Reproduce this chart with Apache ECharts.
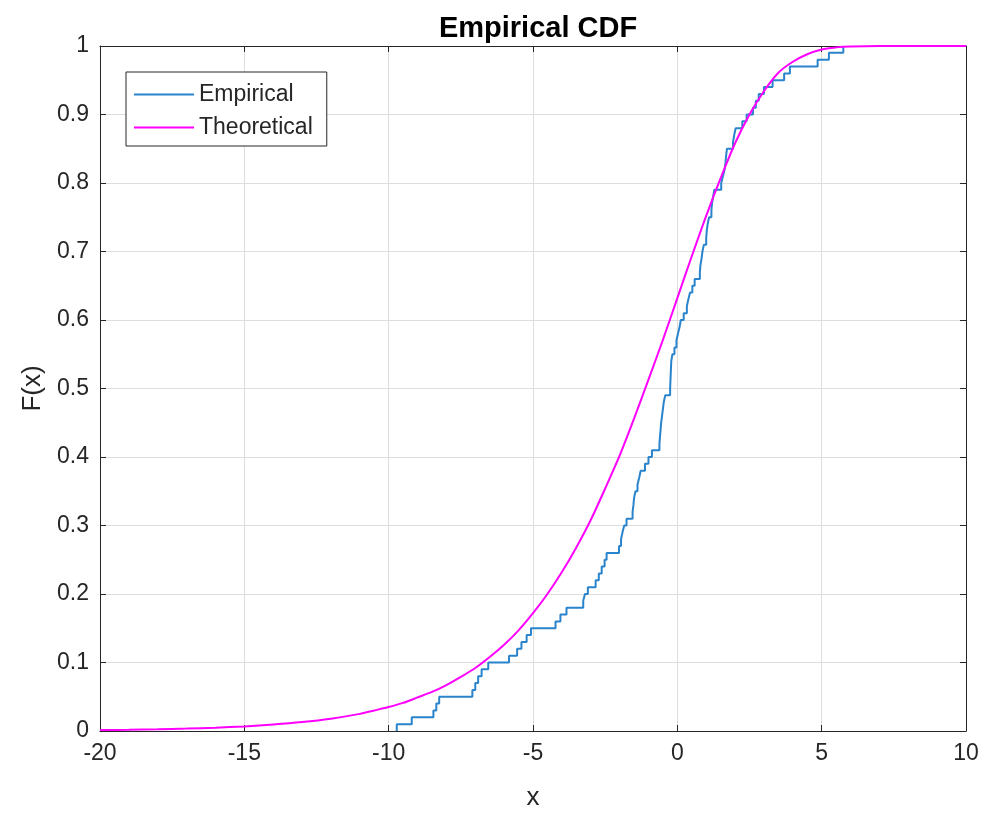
<!DOCTYPE html>
<html>
<head>
<meta charset="utf-8">
<title>Empirical CDF</title>
<script src="https://cdn.jsdelivr.net/npm/echarts@6/dist/echarts.min.js"></script>
<style>
  html, body { margin: 0; padding: 0; background: #fff; }
  #chart { width: 985px; height: 816px; }
</style>
</head>
<body>
<div id="chart"></div>
<script>
// --- データ ---

// 経験分布: ステップの x 位置と、そこでの F(x)
const empX = [-9.72, -9.72, -9.20, -8.45, -8.35, -8.25, -7.10, -7.00, -6.90, -6.78, -6.55,
  -5.83, -5.55, -5.40, -5.22, -5.07, -4.22, -4.05, -3.84, -3.26, -3.20,
  -3.10, -2.83, -2.72, -2.62, -2.52, -2.45, -2.02, -1.95, -1.90, -1.84,
  -1.76, -1.55, -1.52, -1.50, -1.45, -1.38, -1.32, -1.27, -1.12, -1.00,
  -0.88, -0.62, -0.60, -0.58, -0.56, -0.53, -0.50, -0.47, -0.42, -0.25,
  -0.24, -0.23, -0.22, -0.21, -0.17, -0.10, -0.03, 0.02, 0.08, 0.12,
  0.22, 0.33, 0.38, 0.44, 0.52, 0.60, 0.78, 0.80, 0.84, 0.87,
  0.92, 1.00, 1.02, 1.05, 1.10, 1.18, 1.20, 1.24, 1.28, 1.52,
  1.58, 1.64, 1.67, 1.69, 1.72, 1.93, 1.97, 2.02, 2.25, 2.40,
  2.62, 2.72, 2.82, 3.00, 3.30, 3.70, 3.90, 4.86, 5.25, 5.75];
const empY = [0, 0.01, 0.02, 0.03, 0.04, 0.05, 0.06, 0.07, 0.08, 0.09, 0.10,
  0.11, 0.12, 0.13, 0.14, 0.15, 0.16, 0.17, 0.18, 0.19, 0.20,
  0.21, 0.22, 0.23, 0.24, 0.25, 0.26, 0.27, 0.28, 0.29, 0.30,
  0.31, 0.32, 0.33, 0.34, 0.35, 0.36, 0.37, 0.38, 0.39, 0.40,
  0.41, 0.42, 0.43, 0.44, 0.45, 0.46, 0.47, 0.48, 0.49, 0.50,
  0.51, 0.52, 0.53, 0.54, 0.55, 0.56, 0.57, 0.58, 0.59, 0.60,
  0.61, 0.62, 0.63, 0.64, 0.65, 0.66, 0.67, 0.68, 0.69, 0.70,
  0.71, 0.72, 0.73, 0.74, 0.75, 0.76, 0.77, 0.78, 0.79, 0.80,
  0.81, 0.82, 0.83, 0.84, 0.85, 0.86, 0.87, 0.88, 0.89, 0.90,
  0.91, 0.92, 0.93, 0.94, 0.95, 0.96, 0.97, 0.98, 0.99, 1.00];

// 理論分布の曲線（読み取り点）
const theoX = [-20, -19, -18, -17, -16, -15, -14, -13, -12, -11, -10.5, -10, -9.5, -9, -8.5, -8,
  -7.5, -7, -6.5, -6, -5.5, -5, -4.5, -4, -3.5, -3, -2.5, -2, -1.5, -1, -0.5, 0,
  0.5, 1, 1.5, 2, 2.5, 3, 3.5, 4, 4.5, 5, 5.5, 6, 7, 8, 9, 10];
const theoY = [0.0013, 0.0018, 0.0025, 0.0035, 0.0048, 0.0067, 0.0094, 0.013, 0.018, 0.025, 0.030, 0.035, 0.041, 0.049, 0.057, 0.067,
  0.079, 0.092, 0.108, 0.126, 0.147, 0.172, 0.200, 0.232, 0.268, 0.308, 0.354, 0.402, 0.456, 0.513, 0.571, 0.632,
  0.693, 0.752, 0.807, 0.858, 0.900, 0.934, 0.961, 0.977, 0.988, 0.995, 0.998, 0.9994, 1.0, 1.0, 1.0, 1.0];

const textColor = '#262626';
const gridColor = '#dedede';
const fontFamily = '"Liberation Sans", Arial, Helvetica, sans-serif';

function zip(xs, ys) {
    return xs.map((x, i) => [x, ys[i]]);
}

const chart = echarts.init(document.getElementById('chart'));

const boxAxis = {
    axisLine: { show: true, onZero: false, lineStyle: { color: textColor, width: 1 } },
    axisTick: { show: true, inside: true, length: 6, lineStyle: { color: textColor } },
    axisLabel: { show: false },
    splitLine: { show: false }
};

const option = {
    animation: false,
    backgroundColor: '#fff',
    title: {
        text: 'Empirical CDF',
        left: 533,
        top: 9,
        textAlign: 'center',
        textStyle: { fontFamily, fontSize: 29, fontWeight: 'bold', color: '#000' }
    },
    legend: {
        orient: 'vertical',
        left: 126,
        top: 72,
        padding: [11, 14, 7, 8],
        itemGap: 10,
        itemWidth: 60,
        itemHeight: 2,
        icon: 'rect',
        borderColor: textColor,
        borderWidth: 1,
        backgroundColor: '#fff',
        textStyle: { fontFamily, fontSize: 23, color: textColor },
        data: ['Empirical', 'Theoretical']
    },
    grid: { left: 100, right: 19, top: 46, bottom: 83, containLabel: false },
    xAxis: [{
        type: 'value',
        min: -20, max: 10, interval: 5,
        name: 'x',
        nameLocation: 'middle',
        nameGap: 54,
        nameTextStyle: { fontFamily, fontSize: 26, color: textColor },
        axisLine: { show: true, onZero: false, lineStyle: { color: textColor, width: 1 } },
        axisTick: { show: true, inside: true, length: 6, lineStyle: { color: textColor } },
        axisLabel: { fontFamily, fontSize: 23, color: textColor, margin: 11 },
        splitLine: { show: true, lineStyle: { color: gridColor, width: 1 } }
    }, Object.assign({
        type: 'value', position: 'top', min: -20, max: 10, interval: 5
    }, boxAxis)],
    yAxis: [{
        type: 'value',
        min: 0, max: 1, interval: 0.1,
        name: 'F(x)',
        nameLocation: 'middle',
        nameGap: 49,
        nameTextStyle: { fontFamily, fontSize: 26, color: textColor },
        axisLine: { show: true, onZero: false, lineStyle: { color: textColor, width: 1 } },
        axisTick: { show: true, inside: true, length: 6, lineStyle: { color: textColor } },
        axisLabel: { fontFamily, fontSize: 23, color: textColor, margin: 11 },
        splitLine: { show: true, lineStyle: { color: gridColor, width: 1 } }
    }, Object.assign({
        type: 'value', position: 'right', min: 0, max: 1, interval: 0.1
    }, boxAxis)],
    series: [{
        name: 'Empirical',
        type: 'line',
        step: 'end',
        data: zip(empX, empY),
        showSymbol: false,
        color: '#2a84cc',
        lineStyle: { width: 2, color: '#2a84cc' },
        z: 3
    }, {
        name: 'Theoretical',
        type: 'line',
        data: zip(theoX, theoY),
        smooth: 0.3,
        showSymbol: false,
        color: '#ff00ff',
        lineStyle: { width: 2, color: '#ff00ff' },
        z: 4
    }]
};

chart.setOption(option);
</script>
</body>
</html>
